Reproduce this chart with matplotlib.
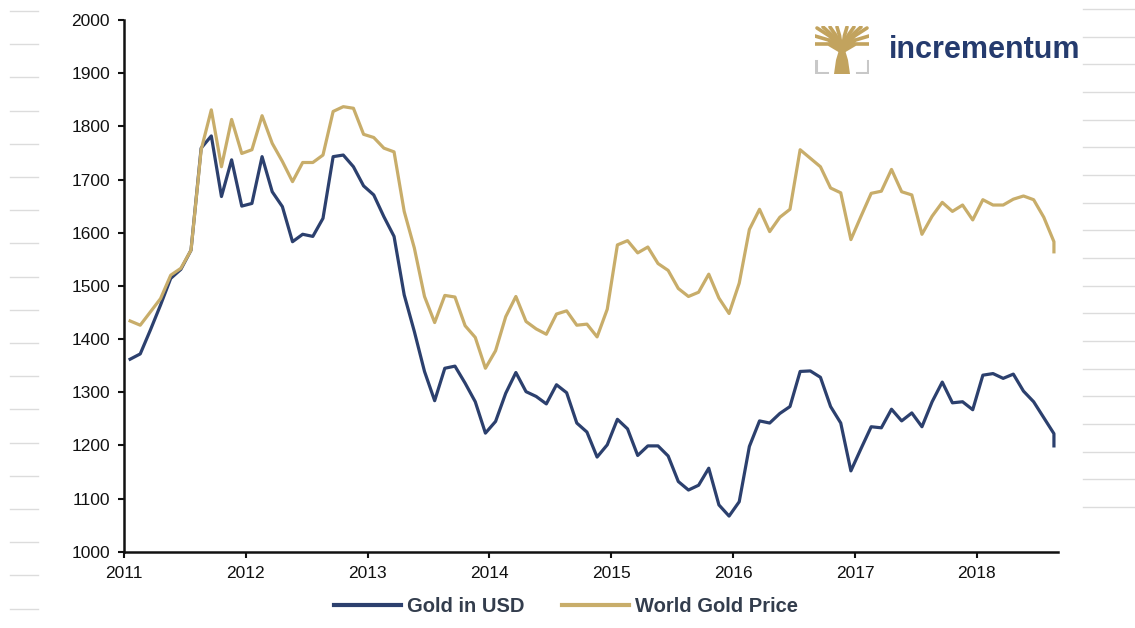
import numpy as np
import matplotlib
matplotlib.use('Agg')
import matplotlib.pyplot as plt
from matplotlib.lines import Line2D
from matplotlib.patches import Polygon

plt.rcParams['font.family'] = ['Liberation Sans', 'DejaVu Sans']

# monthly values, Jan 2011 .. Aug 2018, plus last spot value
gold_usd = [
    1362, 1372, 1417, 1464, 1514, 1531, 1567, 1759, 1782, 1668, 1737, 1650,
    1655, 1743, 1677, 1649, 1583, 1597, 1593, 1627, 1743, 1746, 1724, 1688,
    1671, 1630, 1593, 1483, 1414, 1339, 1284, 1345, 1349, 1317, 1282, 1223,
    1245, 1298, 1337, 1301, 1292, 1278, 1314, 1299, 1242, 1225, 1178, 1201,
    1249, 1231, 1181, 1199, 1199, 1180, 1132, 1116, 1125, 1157, 1088, 1067,
    1094, 1198, 1246, 1242, 1260, 1273, 1339, 1340, 1328, 1273, 1242, 1152,
    1194, 1235, 1233, 1268, 1246, 1261, 1235, 1282, 1319, 1280, 1282, 1267,
    1332, 1335, 1326, 1334, 1302, 1282, 1252, 1222,
]
world_gold = [
    1434, 1426, 1451, 1476, 1520, 1533, 1567, 1756, 1831, 1724, 1813, 1749,
    1756, 1820, 1768, 1734, 1696, 1732, 1732, 1746, 1828, 1837, 1834, 1785,
    1779, 1759, 1752, 1640, 1571, 1480, 1431, 1482, 1479, 1425, 1403, 1345,
    1378, 1442, 1480, 1433, 1419, 1409, 1447, 1453, 1426, 1428, 1404, 1456,
    1577, 1585, 1562, 1573, 1542, 1529, 1495, 1480, 1488, 1522, 1477, 1448,
    1505, 1606, 1644, 1602, 1629, 1644, 1756, 1740, 1724, 1684, 1675, 1587,
    1631, 1674, 1678, 1719, 1677, 1671, 1597, 1631, 1657, 1640, 1652, 1624,
    1662, 1652, 1652, 1663, 1669, 1662, 1629, 1583,
]
spot_usd = 1199
spot_world = 1564

years = [2011, 2012, 2013, 2014, 2015, 2016, 2017, 2018]
y_ticks = [1000, 1100, 1200, 1300, 1400, 1500, 1600, 1700, 1800, 1900, 2000]

NAVY = '#2c406e'
TAN = '#c8ad6a'
LOGO_GOLD = '#c2a35e'

x = 2011 + (np.arange(len(gold_usd)) + 0.6) / 12
x_all = np.append(x, x[-1])
usd_all = gold_usd + [spot_usd]
world_all = world_gold + [spot_world]

W, H = 1135, 628
fig = plt.figure(figsize=(W / 100, H / 100), dpi=100)
ax = fig.add_axes([124 / W, 1 - 551.7 / H, (1058 - 124) / W, (551.7 - 20) / H])

ax.plot(x_all, usd_all, color=NAVY, lw=2.3, label='Gold in USD', solid_joinstyle='round')
ax.plot(x_all, world_all, color=TAN, lw=2.3, label='World Gold Price', solid_joinstyle='round')

ax.set_xlim(2011, 2018 + 8 / 12)
ax.set_ylim(1000, 2000)
ax.set_xticks(years)
ax.set_yticks(y_ticks)
ax.tick_params(axis='both', direction='out', length=4, width=1.5, labelsize=12.5,
               colors='#111111')
ax.tick_params(axis='y', pad=6)
ax.tick_params(axis='x', pad=6)
for s in ['top', 'right']:
    ax.spines[s].set_visible(False)
for s in ['left', 'bottom']:
    ax.spines[s].set_linewidth(1.8)
    ax.spines[s].set_color('#111111')

leg = fig.legend(loc='center', bbox_to_anchor=(566 / W, 1 - 607 / H), ncol=2,
                 frameon=False, handlelength=3.3, columnspacing=1.9, handletextpad=0.3,
                 prop={'size': 14.5, 'weight': 'bold'})
for t in leg.get_texts():
    t.set_color('#333d4d')
for l in leg.get_lines():
    l.set_linewidth(3)

# slide margin guides
for k in range(19):
    yy = 1 - (11 + 33.2 * k) / H
    fig.add_artist(Line2D([10 / W, 38 / W], [yy, yy], color='#dcdcdc', lw=1))
for k in range(19):
    yy = 1 - (9 + 27.67 * k) / H
    fig.add_artist(Line2D([1083 / W, 1], [yy, yy], color='#dcdcdc', lw=1))

# logo
lax = fig.add_axes([815 / W, 1 - 74 / H, 54 / W, 48 / H])
lax.set_xlim(0, 54)
lax.set_ylim(0, 48)
lax.axis('off')
lax.add_patch(Polygon([(19, 0), (35, 0), (33, 14), (30, 24), (24, 24), (21, 14)],
                      closed=True, color=LOGO_GOLD, lw=0))
for ex, ey in [(2, 46), (8, 47), (15, 47), (22, 47), (32, 47), (39, 47), (46, 47), (52, 46),
               (0, 38), (54, 38), (0, 30), (54, 30)]:
    lax.plot([27, (27 + ex) / 2, ex], [22, (22 + ey) / 2 + 4, ey], color=LOGO_GOLD, lw=2.6,
             solid_capstyle='round')
lax.plot([1, 1, 12], [13, 1, 1], color='#c8c8c8', lw=2.2)
lax.plot([42, 53, 53], [1, 1, 13], color='#c8c8c8', lw=2.2)
fig.text(889 / W, 1 - 50 / H, 'incrementum', fontsize=22, fontweight='bold',
         color='#253b6e', va='center', ha='left')

fig.savefig('out.png', dpi=100)
